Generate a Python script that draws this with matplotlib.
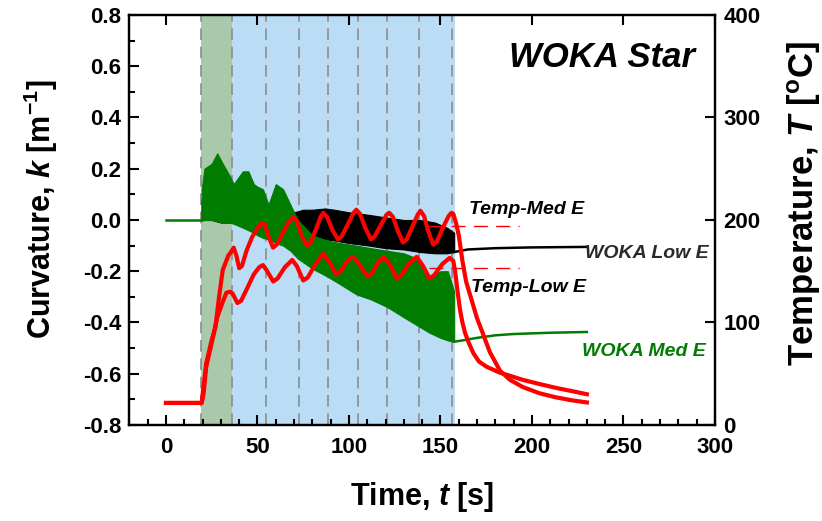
import matplotlib
matplotlib.use("Agg")
import matplotlib.pyplot as plt
import numpy as np

plt.rcParams["font.family"] = ["Liberation Sans", "DejaVu Sans"]
plt.rcParams["font.weight"] = "bold"
plt.rcParams["axes.labelweight"] = "bold"
plt.rcParams["mathtext.fontset"] = "custom"
plt.rcParams["mathtext.rm"] = "Liberation Sans:bold"
plt.rcParams["mathtext.it"] = "Liberation Sans:bold:italic"
plt.rcParams["mathtext.bf"] = "Liberation Sans:bold"

# heating / cooling passes (s)
heat_start, heat_end, spray_end = 19, 36, 158
pass_times = [19, 36, 54.5, 72.5, 88.5, 105, 121, 138.5, 156.5]

# WOKA Med E curvature: flat start, oscillating band (lower/upper envelope), cooling tail
med_flat_t = [0, 19.5]
med_flat_k = [0.0, 0.0]
med_band_t = [19.5, 21, 25, 28, 31, 35, 37, 42, 45, 48, 50, 53, 56, 60, 64, 68,
              72, 80, 88, 95, 104, 112, 121, 130, 137, 144, 150, 154, 157.5]
med_band_lo = [0.0, 0.0, 0.0, -0.005, -0.01, -0.01, -0.015, -0.03, -0.04, -0.05, -0.06,
               -0.07, -0.075, -0.09, -0.10, -0.12, -0.15, -0.19, -0.22, -0.25, -0.29,
               -0.31, -0.34, -0.38, -0.41, -0.44, -0.46, -0.47, -0.475]
med_band_hi = [0.12, 0.20, 0.22, 0.26, 0.22, 0.17, 0.14, 0.19, 0.19, 0.14, 0.13, 0.12,
               0.06, 0.14, 0.12, 0.06, 0.0, -0.06, -0.08, -0.09, -0.10, -0.11, -0.12,
               -0.13, -0.15, -0.22, -0.20, -0.20, -0.28]
med_tail_t = [157.5, 162, 170, 180, 190, 210, 230]
med_tail_k = [-0.475, -0.47, -0.46, -0.45, -0.445, -0.44, -0.437]

# WOKA Low E curvature
low_band_t = [19.5, 21, 25, 30, 36, 42, 48, 55, 62, 70, 75, 80, 87, 92, 100, 111,
              120, 130, 139, 147, 153.5, 157.5]
low_band_hi = [0.08, 0.09, 0.10, 0.09, 0.08, 0.09, 0.10, 0.06, 0.05, 0.03, 0.04, 0.04,
               0.045, 0.04, 0.03, 0.02, 0.01, 0.0, 0.0, -0.01, -0.03, -0.05]
low_band_lo = [0.0, 0.0, 0.0, -0.01, -0.01, -0.02, -0.03, -0.04, -0.05, -0.06, -0.065,
               -0.07, -0.075, -0.08, -0.09, -0.10, -0.11, -0.115, -0.125, -0.13, -0.13,
               -0.125]
low_tail_t = [157.5, 165, 180, 200, 230]
low_tail_k = [-0.125, -0.115, -0.11, -0.107, -0.105]

# temperatures (degC)
temp_med_t = [0, 19.5, 20, 22, 25, 27, 29, 31, 34, 36, 37, 38.5, 40, 41.5, 44, 47, 50,
              52.5, 54, 56.5, 58.5, 60.5, 64, 67, 69.5, 71.5, 74, 77, 79, 82, 84.5, 86,
              88, 91, 94, 96, 100, 102.5, 104, 106, 109, 112, 114, 118, 120.5, 122, 124,
              127, 129.5, 131.5, 135, 137.5, 139, 141, 143.5, 146, 148, 152, 154.5, 156,
              157, 158.5, 160, 162, 164, 167, 170, 173, 177, 182.5, 188, 195, 204, 213,
              222, 230]
temp_med_T = [21.5, 21.5, 30, 60, 83, 95, 125, 151, 165, 170, 173, 165, 153, 155, 170,
              183, 192, 197, 195, 182, 173, 176, 188, 198, 203, 199, 185, 175, 178, 191,
              203, 207, 203, 190, 181, 184, 198, 207, 210, 206, 192, 181, 184, 197, 205,
              207, 203, 188, 178, 181, 195, 205, 209, 204, 188, 176, 179, 195, 204, 207,
              206, 197, 185, 160, 140, 122, 104, 90, 71, 53, 44, 37, 31, 27, 24, 22]
temp_low_t = [0, 19.5, 20.5, 22, 25, 28, 31, 33, 35, 36.5, 39, 41, 44, 48, 51, 53, 55,
              58.6, 61, 65, 69, 71.5, 75, 77.5, 82, 86, 89, 93, 95.5, 99, 102, 105.5,
              110, 112.5, 116, 119, 122.5, 126, 128.5, 133, 137, 140.5, 144, 146.5, 151,
              155, 157, 158, 159, 160.7, 162, 163.4, 165.5, 168, 171, 175, 182.5, 188,
              195, 204, 213.6, 222, 230]
temp_low_T = [21.5, 21.5, 30, 57, 80, 105, 120, 129, 130, 128, 119, 121, 132, 147, 154,
              156, 151, 140, 143, 154, 161, 155, 141, 144, 158, 167, 160, 147, 150, 160,
              164, 157, 145, 148, 159, 164, 156, 143, 146, 158, 164, 155, 143, 146, 157,
              163, 160, 150, 135, 112, 100, 90, 80, 70, 62, 57, 51, 48, 44, 40, 36, 33,
              30]
plateau_t = [144, 193]
plateau_med_T = 194
plateau_low_T = 153

k_ticks = [-0.8, -0.6, -0.4, -0.2, 0.0, 0.2, 0.4, 0.6, 0.8]
k_labels = ["-0.8", "-0.6", "-0.4", "-0.2", "0.0", "0.2", "0.4", "0.6", "0.8"]

GREEN = "#007d00"
RED = "#ff0000"

fig = plt.figure(figsize=(8.22, 5.21), dpi=100)
ax = fig.add_axes([0.1574, 0.1843, 0.7124, 0.7869])
ax2 = ax.twinx()

ax.axvspan(heat_start, heat_end, color="#aac8aa", lw=0, zorder=0)
ax.axvspan(heat_end, spray_end, color="#badcf5", lw=0, zorder=0)
for tp in pass_times:
    ax.axvline(tp, color="#8c8c8c", lw=1.2, dashes=(7, 4), zorder=1)

ax.fill_between(low_band_t, low_band_lo, low_band_hi, color="black", lw=0.8, zorder=2)
ax.plot(low_tail_t, low_tail_k, color="black", lw=1.8, zorder=2)
ax.fill_between(med_band_t, med_band_lo, med_band_hi, color=GREEN, lw=0.8, zorder=3)
ax.plot(med_flat_t, med_flat_k, color=GREEN, lw=1.8, zorder=3)
ax.plot(med_tail_t, med_tail_k, color=GREEN, lw=1.8, zorder=3)

ax2.plot(temp_med_t, temp_med_T, color=RED, lw=3)
ax2.plot(temp_low_t, temp_low_T, color=RED, lw=3)
ax2.plot(plateau_t, [plateau_med_T] * 2, color=RED, lw=1.0, dashes=(10, 6))
ax2.plot(plateau_t, [plateau_low_T] * 2, color=RED, lw=1.0, dashes=(10, 6))

ax.set_xlim(-20, 300)
ax.set_ylim(-0.8, 0.8)
ax2.set_ylim(0, 400)
ax.set_xticks(np.arange(0, 301, 50))
ax.set_xticks(np.arange(-20, 301, 10), minor=True)
ax.set_yticks(k_ticks)
ax.set_yticks(np.arange(-0.8, 0.81, 0.1), minor=True)
ax.set_yticklabels(k_labels)
ax2.set_yticks([0, 100, 200, 300, 400])

ax.tick_params(which="both", direction="in", labelsize=16, width=1.5, top=True,
               right=False, pad=6)
ax.tick_params(axis="x", pad=9)
ax.tick_params(which="major", length=7)
ax.tick_params(which="minor", length=4, top=False)
ax2.tick_params(direction="in", labelsize=16, width=1.5, length=7, pad=6)
for a in (ax, ax2):
    for s in a.spines.values():
        s.set_linewidth(1.6)

ax.set_xlabel("Time, $t$ [s]", fontsize=22, fontweight="bold")
ax.set_ylabel("Curvature, $k$ [m$^{-1}$]", fontsize=22, fontweight="bold")
ax2.set_ylabel("Temperature, $T$ [$^{\\mathrm{o}}$C]", fontsize=25, fontweight="bold")
ax.xaxis.set_label_coords(0.5, -0.135)
ax.yaxis.set_label_coords(-0.118, 0.527)
ax2.yaxis.set_label_coords(1.12, 0.54)

lab = dict(style="italic", weight="bold", fontsize=14, ha="center", va="center")
ax.text(238, 0.636, "WOKA Star", **dict(lab, fontsize=25))
ax.text(197, 0.039, "Temp-Med E", color="black", **lab)
ax.text(263, -0.129, "WOKA Low E", color="#2a2a2a", **lab)
ax.text(198, -0.265, "Temp-Low E", color="black", **lab)
ax.text(261, -0.515, "WOKA Med E", color=GREEN, **lab)

fig.savefig("out.png", dpi=100)
